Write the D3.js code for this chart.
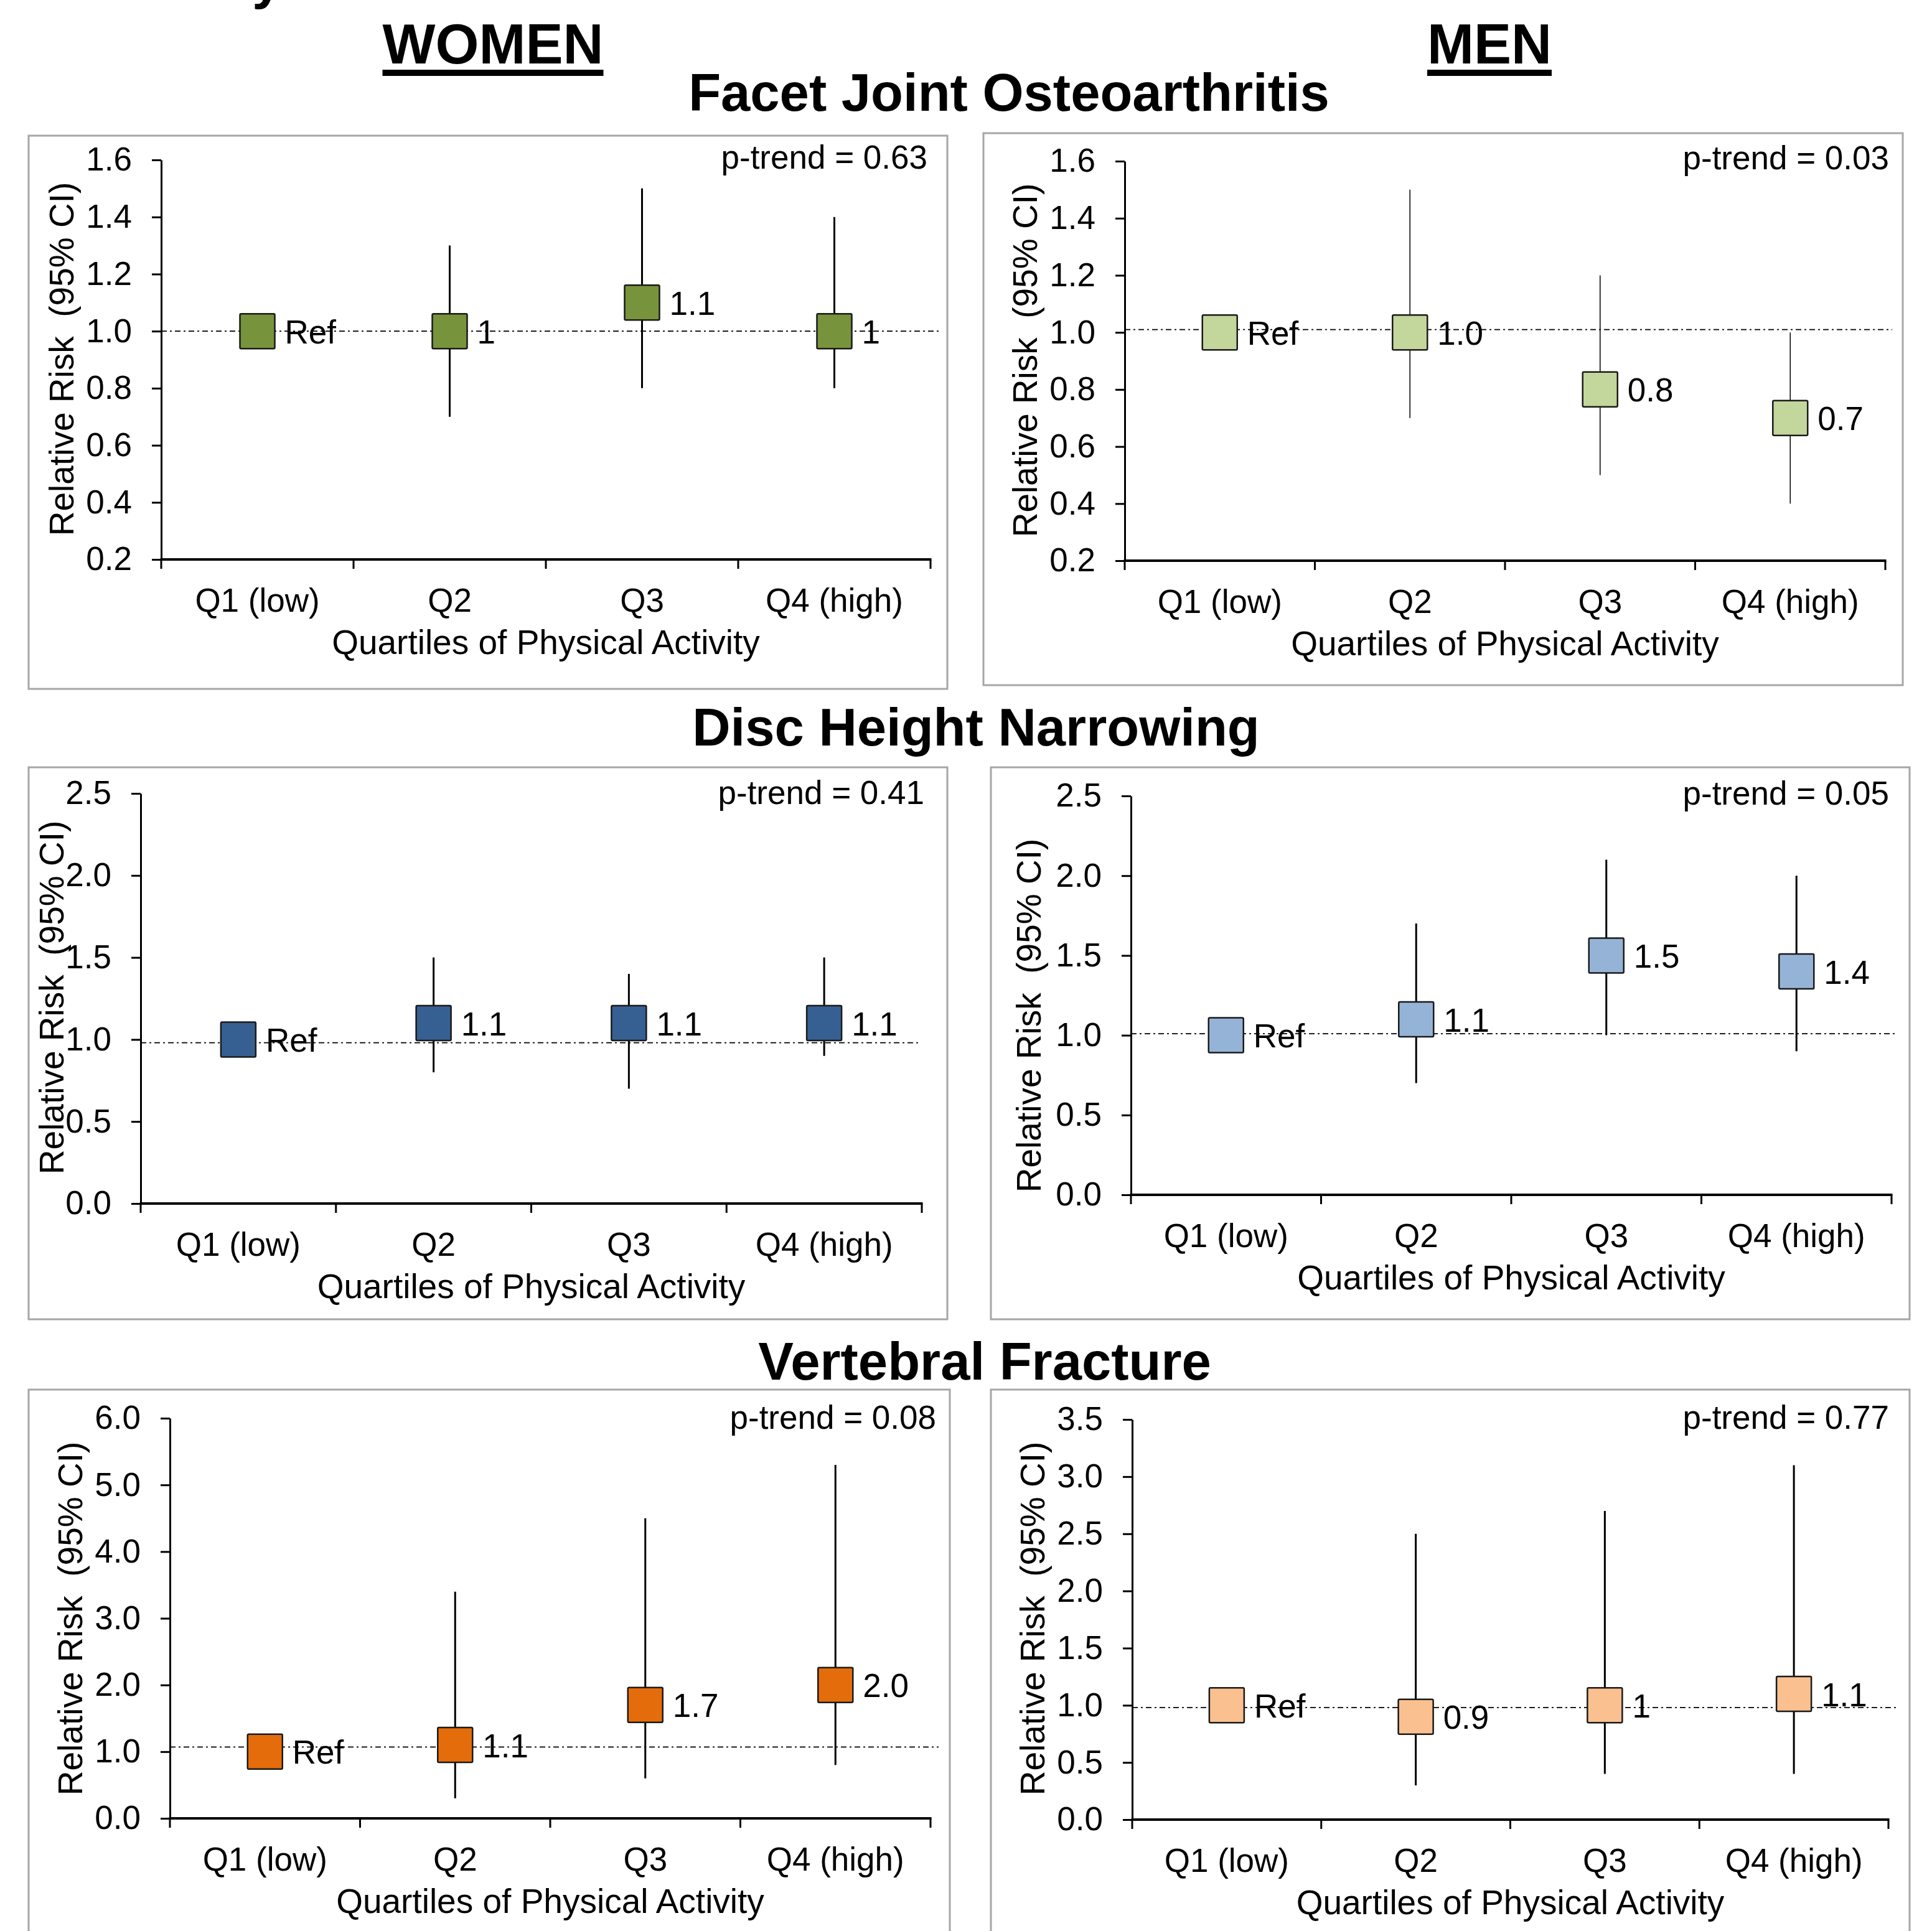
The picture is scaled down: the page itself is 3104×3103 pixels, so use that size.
<!doctype html>
<html lang="en">
<head>
<meta charset="UTF-8">
<title>Relative risk by quartile of physical activity</title>
<style>
  body { margin: 0; background: #fff; }
  text { font-family: "Liberation Sans", Arial, sans-serif; fill: #000; }
  .tick text { font-size: 53px; }
  .axis path, .axis line { stroke: #000; }
</style>
</head>
<body>
<script src="https://cdn.jsdelivr.net/npm/d3@7"></script>
<script>
// ---- data ----
var categories = ["Q1 (low)", "Q2", "Q3", "Q4 (high)"];

var womenFacetRR = [1.0, 1.0, 1.1, 1.0],
    womenFacetLo = [null, 0.7, 0.8, 0.8],
    womenFacetHi = [null, 1.3, 1.5, 1.4],
    womenFacetLbl = ["Ref", "1", "1.1", "1"];

var menFacetRR = [1.0, 1.0, 0.8, 0.7],
    menFacetLo = [null, 0.7, 0.5, 0.4],
    menFacetHi = [null, 1.5, 1.2, 1.0],
    menFacetLbl = ["Ref", "1.0", "0.8", "0.7"];

var womenDiscRR = [1.0, 1.1, 1.1, 1.1],
    womenDiscLo = [null, 0.8, 0.7, 0.9],
    womenDiscHi = [null, 1.5, 1.4, 1.5],
    womenDiscLbl = ["Ref", "1.1", "1.1", "1.1"];

var menDiscRR = [1.0, 1.1, 1.5, 1.4],
    menDiscLo = [null, 0.7, 1.0, 0.9],
    menDiscHi = [null, 1.7, 2.1, 2.0],
    menDiscLbl = ["Ref", "1.1", "1.5", "1.4"];

var womenVfRR = [1.0, 1.1, 1.7, 2.0],
    womenVfLo = [null, 0.3, 0.6, 0.8],
    womenVfHi = [null, 3.4, 4.5, 5.3],
    womenVfLbl = ["Ref", "1.1", "1.7", "2.0"];

var menVfRR = [1.0, 0.9, 1.0, 1.1],
    menVfLo = [null, 0.3, 0.4, 0.4],
    menVfHi = [null, 2.5, 2.7, 3.1],
    menVfLbl = ["Ref", "0.9", "1", "1.1"];

var yDomains = [[0.2, 1.6], [0.2, 1.6], [0, 2.5], [0, 2.5], [0, 6], [0, 3.5]];
var yTickVals = [
  [0.2, 0.4, 0.6, 0.8, 1.0, 1.2, 1.4, 1.6],
  [0.2, 0.4, 0.6, 0.8, 1.0, 1.2, 1.4, 1.6],
  [0, 0.5, 1.0, 1.5, 2.0, 2.5],
  [0, 0.5, 1.0, 1.5, 2.0, 2.5],
  [0, 1, 2, 3, 4, 5, 6],
  [0, 0.5, 1.0, 1.5, 2.0, 2.5, 3.0, 3.5]
];
var pTrend = ["0.63", "0.03", "0.41", "0.05", "0.08", "0.77"];
var refLine = [1.0, 1.01, 0.98, 1.01, 1.07, 0.98];

// ---- layout ----
var width = 3104, height = 3103;
var fills = ["#77933c", "#c3d69b", "#376092", "#95b3d7", "#e46c0a", "#fac090"];
var barWidths = [3, 1.5, 3, 3, 3, 3];
var layout = [
  {box: [46, 218, 1476, 889],   ax: 259,  yTop: 257,  yBot: 899,  xEnd: 1495, refEnd: 1512, tx: 99,   ty: 577,  px: 1490, py: 271},
  {box: [1580, 214, 1477, 887], ax: 1807, yTop: 259,  yBot: 901,  xEnd: 3029, refEnd: 3040, tx: 1647, ty: 579,  px: 3035, py: 272},
  {box: [46, 1233, 1476, 887],  ax: 226,  yTop: 1275, yBot: 1934, xEnd: 1481, refEnd: 1475, tx: 83,   ty: 1603, px: 1485, py: 1292},
  {box: [1592, 1233, 1476, 887],ax: 1817, yTop: 1279, yBot: 1920, xEnd: 3039, refEnd: 3049, tx: 1653, ty: 1632, px: 3035, py: 1293},
  {box: [46, 2233, 1480, 900],  ax: 273,  yTop: 2279, yBot: 2922, xEnd: 1495, refEnd: 1508, tx: 113,  ty: 2601, px: 1504, py: 2296},
  {box: [1592, 2233, 1476, 900],ax: 1819, yTop: 2281, yBot: 2924, xEnd: 3034, refEnd: 3049, tx: 1659, ty: 2601, px: 3035, py: 2296}
];

var series = [
  [womenFacetRR, womenFacetLo, womenFacetHi, womenFacetLbl],
  [menFacetRR, menFacetLo, menFacetHi, menFacetLbl],
  [womenDiscRR, womenDiscLo, womenDiscHi, womenDiscLbl],
  [menDiscRR, menDiscLo, menDiscHi, menDiscLbl],
  [womenVfRR, womenVfLo, womenVfHi, womenVfLbl],
  [menVfRR, menVfLo, menVfHi, menVfLbl]
];

var svg = d3.select("body").append("svg")
  .attr("width", width)
  .attr("height", height);

svg.append("rect").attr("width", width).attr("height", height).attr("fill", "#fff");

// headings (the "y" is the tail of a line cut off above the picture)
svg.append("text").attr("x", 405).attr("y", -3)
  .attr("font-size", 88).attr("font-weight", "bold").text("y");

[["WOMEN", 792], ["MEN", 2393]].forEach(function(h) {
  var t = svg.append("text")
    .attr("x", h[1]).attr("y", 102)
    .attr("text-anchor", "middle")
    .attr("font-size", 90).attr("font-weight", "bold")
    .text(h[0]);
  var w = t.node().getComputedTextLength();
  svg.append("rect")
    .attr("x", h[1] - w / 2).attr("y", 112)
    .attr("width", w).attr("height", 10)
    .attr("fill", "#000");
});

[["Facet Joint Osteoarthritis", 1621, 178],
 ["Disc Height Narrowing", 1568, 1198],
 ["Vertebral Fracture", 1582, 2217]].forEach(function(h) {
  svg.append("text")
    .attr("x", h[1]).attr("y", h[2])
    .attr("text-anchor", "middle")
    .attr("font-size", 85).attr("font-weight", "bold")
    .text(h[0]);
});

// panels
layout.forEach(function(L, k) {
  var rr = series[k][0], lo = series[k][1], hi = series[k][2], lbl = series[k][3];
  var g = svg.append("g");

  g.append("rect")
    .attr("x", L.box[0]).attr("y", L.box[1])
    .attr("width", L.box[2]).attr("height", L.box[3])
    .attr("fill", "none").attr("stroke", "#a6a6a6").attr("stroke-width", 3);

  var x = d3.scaleBand().domain(categories).range([L.ax, L.xEnd]).padding(0);
  var y = d3.scaleLinear().domain(yDomains[k]).range([L.yBot, L.yTop]);

  // y axis
  var yAxis = g.append("g")
    .attr("class", "axis")
    .attr("transform", "translate(" + L.ax + ",0)")
    .call(d3.axisLeft(y).tickValues(yTickVals[k]).tickFormat(d3.format(".1f"))
      .tickSize(15).tickSizeOuter(0).tickPadding(32));
  yAxis.select(".domain").attr("stroke-width", 3);
  yAxis.selectAll(".tick line").attr("stroke-width", 3);

  // x axis: labels at band centres, ticks at band edges
  var xAxis = g.append("g")
    .attr("class", "axis")
    .attr("transform", "translate(0," + L.yBot + ")")
    .call(d3.axisBottom(x).tickSize(0).tickPadding(46));
  xAxis.select(".domain").remove();

  var edges = categories.map(function(c) { return x(c); }).concat([L.xEnd]);
  g.selectAll(".xedge").data(edges).enter().append("line")
    .attr("x1", function(d) { return d; }).attr("x2", function(d) { return d; })
    .attr("y1", L.yBot).attr("y2", L.yBot + 15)
    .attr("stroke", "#000").attr("stroke-width", 3);
  g.append("line")
    .attr("x1", L.ax - 1.5).attr("x2", L.xEnd + 1.5)
    .attr("y1", L.yBot).attr("y2", L.yBot)
    .attr("stroke", "#000").attr("stroke-width", 4);

  g.append("text")
    .attr("x", (L.ax + L.xEnd) / 2).attr("y", L.yBot + 152)
    .attr("text-anchor", "middle").attr("font-size", 55)
    .text("Quartiles of Physical Activity");

  g.append("text")
    .attr("transform", "translate(" + L.tx + "," + L.ty + ") rotate(-90)")
    .attr("text-anchor", "middle").attr("dy", "0.35em").attr("font-size", 55)
    .style("white-space", "pre")
    .text("Relative Risk  (95% CI)");

  g.append("text")
    .attr("x", L.px).attr("y", L.py)
    .attr("text-anchor", "end").attr("font-size", 53)
    .text("p-trend = " + pTrend[k]);

  // reference line
  g.append("line")
    .attr("x1", L.ax).attr("x2", L.refEnd)
    .attr("y1", y(refLine[k])).attr("y2", y(refLine[k]))
    .attr("stroke", "#000").attr("stroke-width", 1.8)
    .attr("stroke-dasharray", "9,5,3,5");

  var pts = categories.map(function(c, i) {
    return {c: c, rr: rr[i], lo: lo[i], hi: hi[i], lbl: lbl[i]};
  });
  var cx = function(d) { return x(d.c) + x.bandwidth() / 2; };
  var half = 28;

  g.selectAll(".ci").data(pts.filter(function(d) { return d.lo !== null; }))
    .enter().append("line")
    .attr("x1", cx).attr("x2", cx)
    .attr("y1", function(d) { return y(d.lo); })
    .attr("y2", function(d) { return y(d.hi); })
    .attr("stroke", "#000").attr("stroke-width", barWidths[k]);

  g.selectAll(".mk").data(pts).enter().append("rect")
    .attr("x", function(d) { return cx(d) - half; })
    .attr("y", function(d) { return y(d.rr) - half; })
    .attr("width", half * 2).attr("height", half * 2)
    .attr("rx", 2)
    .attr("fill", fills[k]).attr("stroke", "#1a1a1a").attr("stroke-width", 2.5);

  g.selectAll(".lbl").data(pts).enter().append("text")
    .attr("x", function(d) { return cx(d) + half + 16; })
    .attr("y", function(d) { return y(d.rr); })
    .attr("dy", "0.37em").attr("font-size", 53)
    .text(function(d) { return d.lbl; });
});
</script>
</body>
</html>
